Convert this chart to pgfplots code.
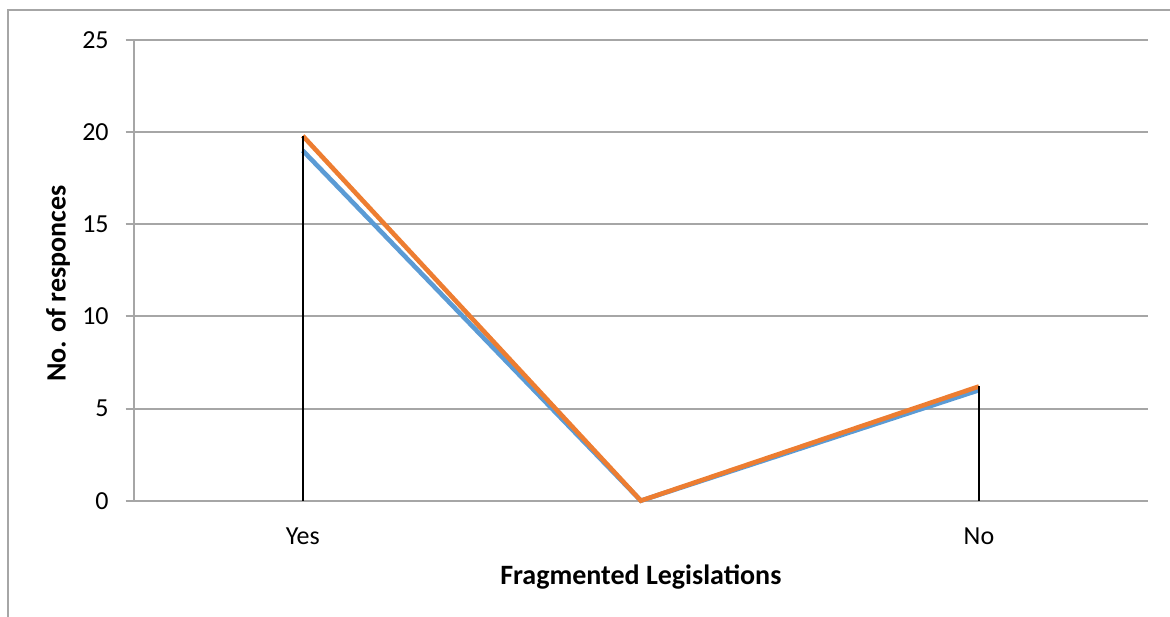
\documentclass[border=0pt]{standalone}
\usepackage{pgfplots}
\pgfplotsset{compat=1.18}
\usepackage{fontspec}
\setmainfont{Carlito}
\definecolor{xlblue}{RGB}{91,155,213}
\definecolor{xlorange}{RGB}{237,125,49}
\definecolor{gridc}{RGB}{166,166,166}
\begin{document}
\begin{tikzpicture}
\useasboundingbox (0pt,0pt) rectangle (585pt,308pt);
\draw[gridc, line width=1pt] (4pt,-5pt) -- (4pt,303pt) -- (590pt,303pt);
\begin{axis}[
  at={(66.85pt,57.65pt)}, anchor=south west,
  scale only axis, width=507.15pt, height=230.35pt,
  xmin=-0.5, xmax=2.5, ymin=0, ymax=25,
  ytick={0,5,...,25},
  xtick={0,1,2}, xticklabels={Yes,,No},
  ymajorgrids, grid style={gridc, line width=1pt},
  axis y line*=left, axis x line*=bottom,
  axis line style={gridc, line width=1pt, -},
  xtick style={draw=none},
  ytick style={gridc, line width=1pt},
  tick align=outside, major tick length=4pt,
  /pgf/number format/assume math mode=true,
  tick label style={font=\fontsize{13}{15}\selectfont, text=black},
  yticklabel style={xshift=-5pt},
  xticklabel style={yshift=-6pt},
  label style={font=\fontsize{14}{16}\selectfont\bfseries, text=black},
  xlabel={Fragmented Legislations},
  ylabel={No. of responces},
  xlabel style={at={(axis description cs:0.5,-0.1656)}, anchor=center},
  ylabel style={at={(axis description cs:-0.0746,0.4715)}, anchor=center},
  clip=false,
]
\addplot[xlblue, line width=2.3pt] coordinates {(0,19) (1,0) (2,6)};
\addplot[xlorange, line width=2.3pt] coordinates {(0,19.8) (1,0) (2,6.2)};
\addplot[ycomb, black, line width=0.75pt] coordinates {(0,19.8) (2,6.2)};
\end{axis}
\end{tikzpicture}
\end{document}
